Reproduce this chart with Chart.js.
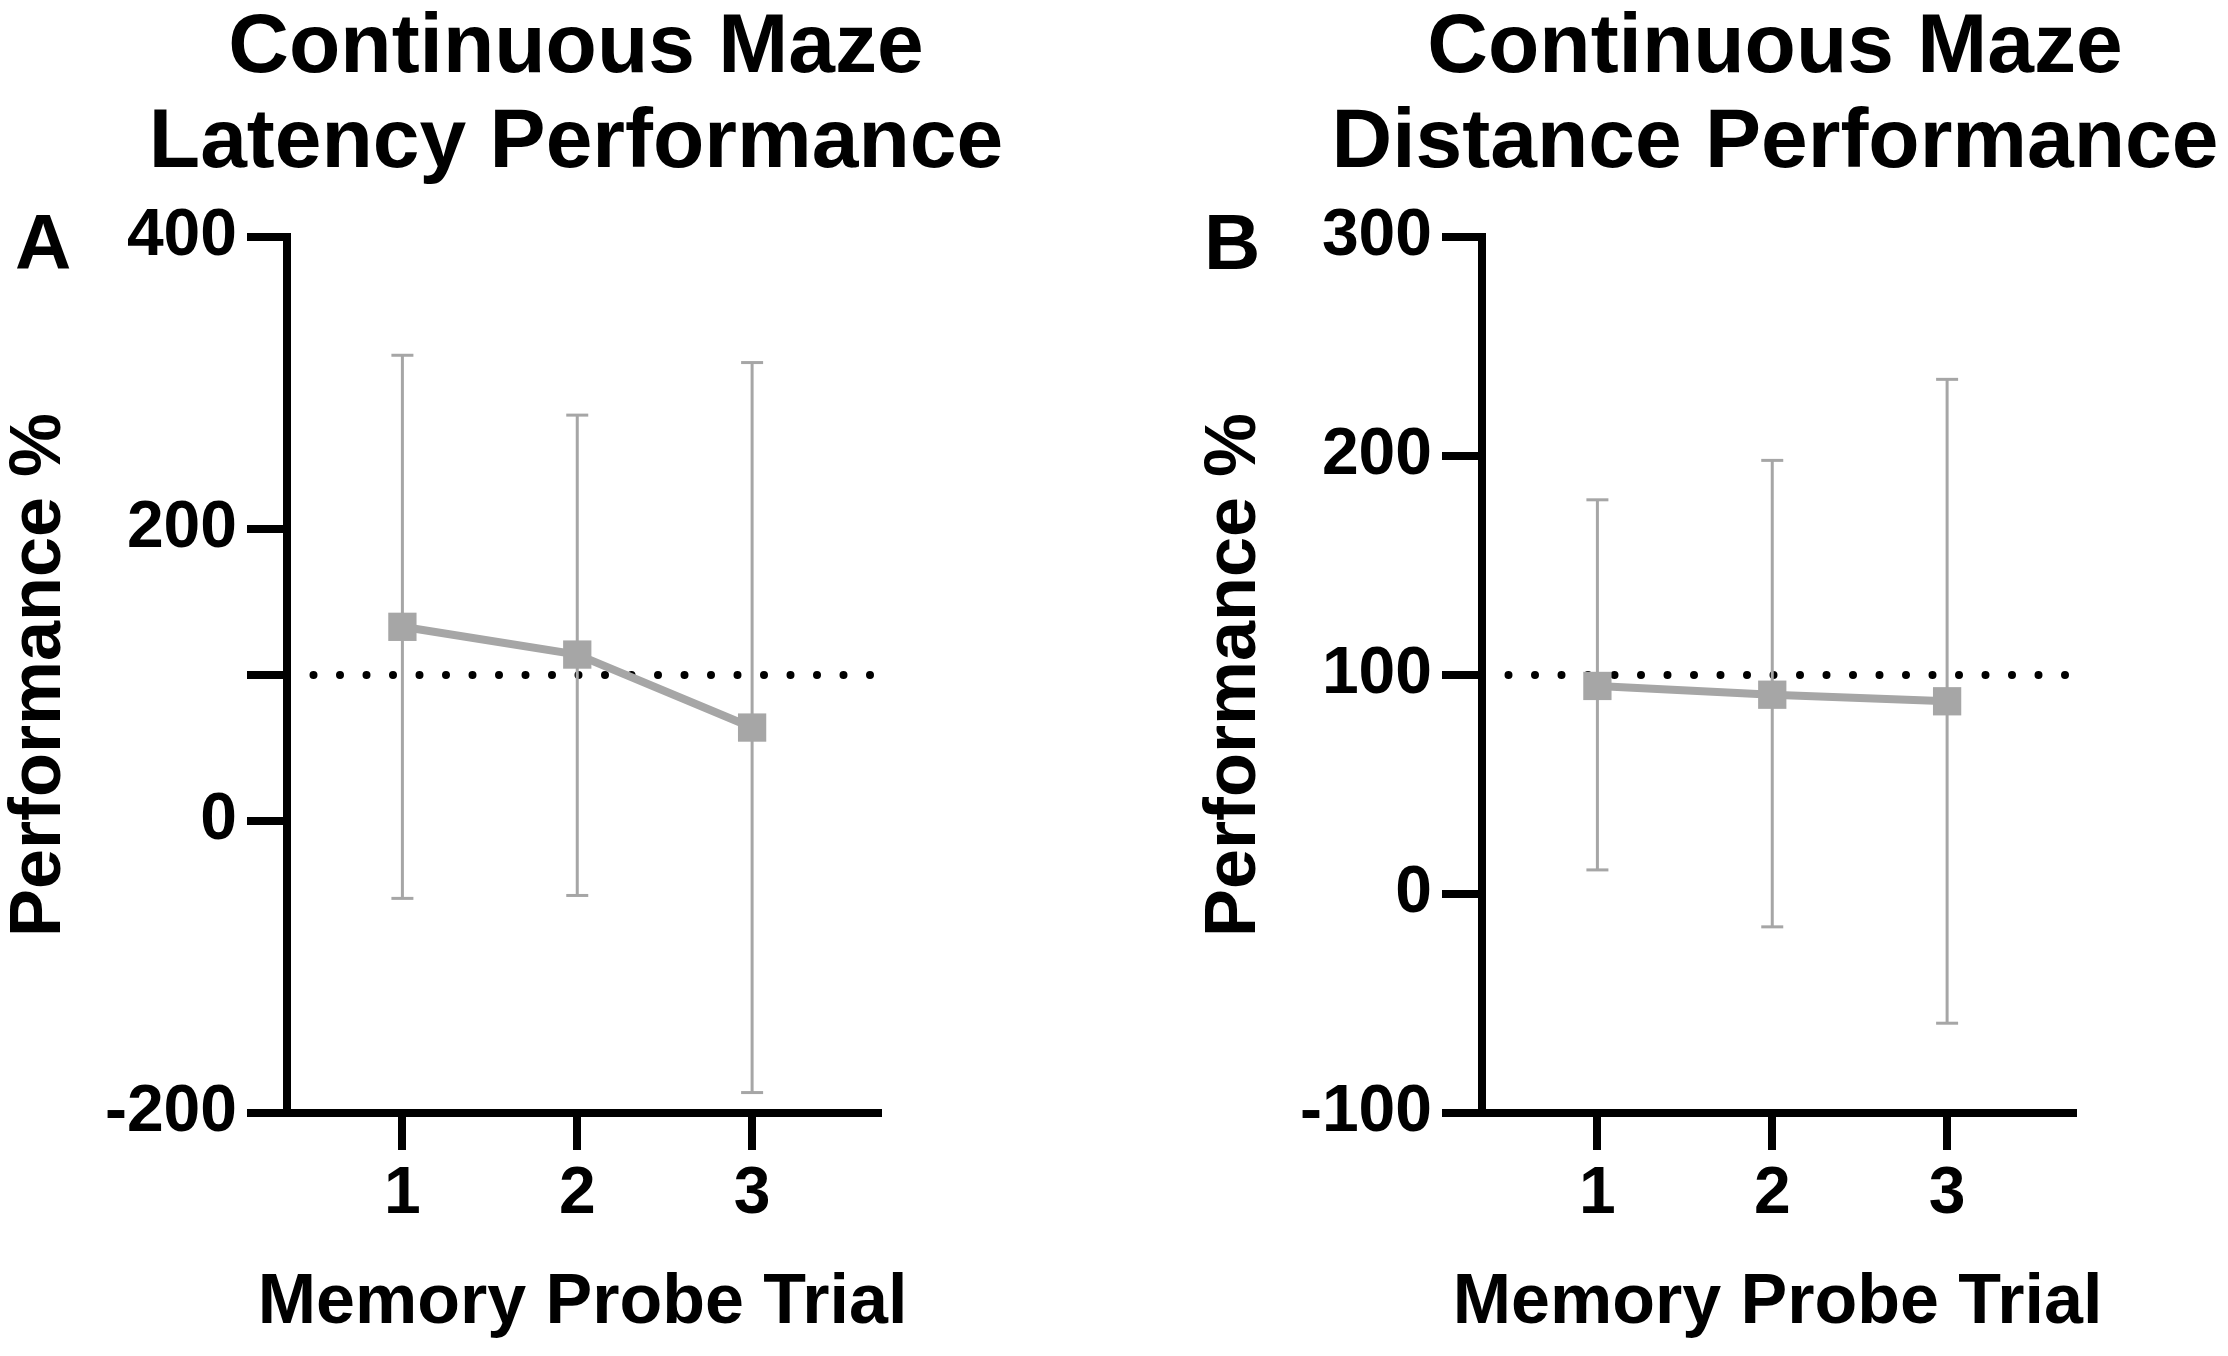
<!DOCTYPE html>
<html>
<head>
<meta charset="utf-8">
<script src="https://cdn.jsdelivr.net/npm/chart.js@4.4.1/dist/chart.umd.min.js"></script>
<style>
  html, body { margin: 0; padding: 0; background: #fff; overflow: hidden; }
  body { width: 2228px; height: 1356px; position: relative; }
  canvas { position: absolute; top: 0; }
  #panelA { left: 0; }
  #panelB { left: 1195px; }
</style>
</head>
<body>
<canvas id="panelA" width="1114" height="1356"></canvas>
<canvas id="panelB" width="1114" height="1356"></canvas>
<script>
// trials on the x axis
const trials = [1, 2, 3];
const xTickLabels = ['1', '2', '3'];

// panel A - latency (mean and error bar ends)
const latencyMean = [133, 114, 64];
const latencyUpper = [319, 278, 314];
const latencyLower = [-53, -51, -186];
const latencyTicks = [-200, 0, 100, 200, 400];
const latencyTickLabels = ['-200', '0', '', '200', '400'];

// panel B - distance
const distanceMean = [95, 91, 88];
const distanceUpper = [180, 198, 235];
const distanceLower = [11, -15, -59];
const distanceTicks = [-100, 0, 100, 200, 300];
const distanceTickLabels = ['-100', '0', '100', '200', '300'];

const referenceLine = 100;
const xMin = 0.34, xMax = 3.72;

const GRAY = '#a6a6a6';
const FONT = "'Liberation Sans', Arial, Helvetica, sans-serif";

function points(xs, ys) {
  return xs.map((x, i) => ({ x, y: ys[i] }));
}

// each bar is lower -> upper, then a null so the line breaks
function errorPoints(xs, lo, hi) {
  const out = [];
  xs.forEach((x, i) => {
    out.push({ x, y: lo[i] }, { x, y: hi[i] }, { x, y: null });
  });
  return out;
}

// titles, panel letter and x title (drawn here so the long x title is not squeezed)
const panelText = {
  id: 'panelText',
  afterDraw(chart, args, opts) {
    const ctx = chart.ctx;
    const area = chart.chartArea;
    ctx.save();
    ctx.fillStyle = '#000';
    ctx.textBaseline = 'alphabetic';
    ctx.font = `bold 84px ${FONT}`;
    ctx.textAlign = 'center';
    opts.title.forEach((line, i) => ctx.fillText(line, opts.titleX, 72 + i * 95));
    ctx.textAlign = 'left';
    ctx.font = `bold 78px ${FONT}`;
    ctx.fillText(opts.letter, opts.letterX, 269);
    ctx.textAlign = 'center';
    ctx.font = `bold 70px ${FONT}`;
    ctx.fillText(opts.xTitle, (area.left + area.right) / 2, 1323);
    ctx.restore();
  }
};

function makePanel(id, cfg) {
  const tickFont = { family: FONT, size: 66, weight: 'bold' };
  return new Chart(document.getElementById(id), {
    type: 'line',
    data: {
      datasets: [
        {
          data: points(trials, cfg.mean),
          borderColor: GRAY,
          borderWidth: 8,
          pointStyle: 'rect',
          pointRadius: 20,
          pointBackgroundColor: GRAY,
          pointBorderWidth: 0,
          order: 0,
          clip: false
        },
        {
          data: errorPoints(trials, cfg.lower, cfg.upper),
          borderColor: GRAY,
          borderWidth: 3,
          pointStyle: 'line',
          pointRadius: 11,
          pointBorderColor: GRAY,
          pointBorderWidth: 3,
          spanGaps: false,
          order: 1,
          clip: false
        },
        {
          data: [{ x: xMin, y: referenceLine }, { x: xMax, y: referenceLine }],
          borderColor: '#000',
          borderWidth: 8,
          borderDash: [0, 26.5],
          borderCapStyle: 'round',
          pointRadius: 0,
          order: 2
        }
      ]
    },
    options: {
      responsive: false,
      animation: false,
      devicePixelRatio: 1,
      events: [],
      layout: { padding: { left: 0, top: 237, right: 236, bottom: 0 } },
      plugins: {
        legend: { display: false },
        tooltip: { enabled: false },
        panelText: {
          title: cfg.title,
          titleX: cfg.titleX,
          letter: cfg.letter,
          letterX: cfg.letterX,
          xTitle: 'Memory Probe Trial'
        }
      },
      scales: {
        x: {
          type: 'linear',
          min: xMin,
          max: xMax,
          afterBuildTicks: s => { s.ticks = trials.map(v => ({ value: v })); },
          afterFit: s => { s.height = 243; },
          ticks: {
            callback: (v, i) => xTickLabels[i],
            font: tickFont,
            color: '#000',
            padding: 5,
            maxRotation: 0,
            autoSkip: false
          },
          grid: { drawOnChartArea: false, tickLength: 37, lineWidth: 8, color: '#000' },
          border: { width: 8, color: '#000' }
        },
        y: {
          type: 'linear',
          min: cfg.ticks[0],
          max: cfg.ticks[cfg.ticks.length - 1],
          afterBuildTicks: s => { s.ticks = cfg.ticks.map(v => ({ value: v })); },
          afterFit: s => { s.width = 287; },
          ticks: {
            callback: (v, i) => cfg.tickLabels[i],
            font: tickFont,
            color: '#000',
            padding: 10,
            autoSkip: false
          },
          grid: { drawOnChartArea: false, tickLength: 40, lineWidth: 8, color: '#000' },
          border: { width: 8, color: '#000' },
          title: {
            display: true,
            text: 'Performance %',
            color: '#000',
            font: { family: FONT, size: 72, weight: 'bold', lineHeight: 1 },
            padding: { top: 4, bottom: 0 }
          }
        }
      }
    },
    plugins: [panelText]
  });
}

makePanel('panelA', {
  mean: latencyMean,
  upper: latencyUpper,
  lower: latencyLower,
  ticks: latencyTicks,
  tickLabels: latencyTickLabels,
  title: ['Continuous Maze', 'Latency Performance'],
  titleX: 576,
  letter: 'A',
  letterX: 15
});

makePanel('panelB', {
  mean: distanceMean,
  upper: distanceUpper,
  lower: distanceLower,
  ticks: distanceTicks,
  tickLabels: distanceTickLabels,
  title: ['Continuous Maze', 'Distance Performance'],
  titleX: 580,
  letter: 'B',
  letterX: 9
});
</script>
</body>
</html>
